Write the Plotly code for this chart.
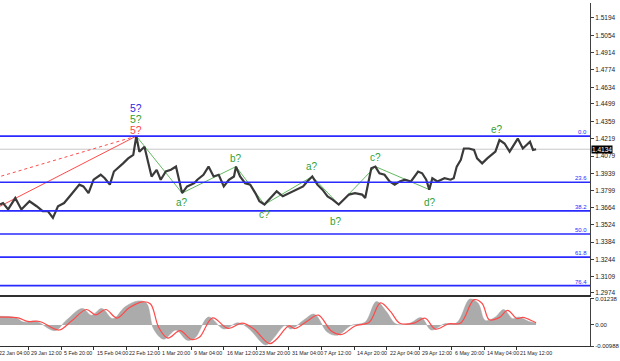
import plotly.graph_objects as go

# ---------------- data (GBP/USD H4) ----------------
price_bar = [0, 3, 8, 15, 21, 29, 36, 42, 47, 52, 57, 63, 70, 78, 82, 87, 92, 99, 103, 108,
             112, 116, 121, 126, 131, 134, 137, 142, 146, 149, 154, 158, 163, 168, 173, 176, 179, 184, 191, 194,
             200, 205, 210, 215, 220, 225, 230, 232, 236, 241, 246, 251, 255, 260, 267, 272, 278, 285, 291, 298,
             302, 307, 312, 317, 322, 327, 333, 338, 343, 349, 356, 359, 362, 365, 369, 373, 378, 383, 388,
             393, 398, 404, 411, 415, 419, 422, 425, 430, 437, 443, 446, 449, 453, 456, 461, 466, 469, 474, 479,
             483, 487, 491, 496, 501, 506, 509, 514, 521, 524, 527]
price_close = [1.3688, 1.3700, 1.3648, 1.3740, 1.3648, 1.3714, 1.3674, 1.3634, 1.3634, 1.3580,
               1.3674, 1.3700, 1.3768, 1.3848, 1.3834, 1.3780, 1.3888, 1.3928, 1.3900, 1.3848,
               1.3954, 1.3980, 1.4020, 1.4060, 1.4088, 1.4240, 1.4114, 1.4154, 1.4020, 1.3914,
               1.3968, 1.3888, 1.3954, 1.3968, 1.3994, 1.3888, 1.3780, 1.3834, 1.3860, 1.3888,
               1.3928, 1.3994, 1.3914, 1.3928, 1.3834, 1.3888, 1.3914, 1.3994, 1.3914, 1.3860,
               1.3848, 1.3780, 1.3714, 1.3688, 1.3754, 1.3794, 1.3754, 1.3780, 1.3808, 1.3834,
               1.3874, 1.3914, 1.3848, 1.3808, 1.3754, 1.3728, 1.3688, 1.3728, 1.3768, 1.3780,
               1.3768, 1.3740, 1.3860, 1.3980, 1.3994, 1.3940, 1.3928, 1.3874, 1.3848,
               1.3874, 1.3888, 1.3874, 1.3954, 1.3940, 1.3888, 1.3808, 1.3900, 1.3874, 1.3900,
               1.3888, 1.3900, 1.3994, 1.4048, 1.4140, 1.4140, 1.4128, 1.4060, 1.4020, 1.4060,
               1.4088, 1.4114, 1.4208, 1.4180, 1.4114, 1.4180, 1.4220, 1.4140, 1.4194, 1.4128,
               1.4134]

osc_bar = [0, 15, 23, 35, 54, 65, 81, 90, 100, 111, 123, 136, 144, 151, 161, 173, 184, 192, 205, 220,
           234, 245, 261, 268, 280, 286, 299, 309, 322, 332, 345, 359, 370, 380, 389, 403, 414, 424, 437, 449,
           462, 470, 477, 487, 495, 504, 510, 520, 527]
osc_hist = [0.0040, 0.0034, 0.0013, 0.0018, -0.0027, 0.0021, 0.0077, 0.0045, 0.0077, 0.0029,
            0.0085, 0.0112, 0.0101, -0.0019, -0.0067, -0.0024, -0.0072, -0.0059, 0.0037, -0.0019,
            0.0010, -0.0019, -0.0094, -0.0067, -0.0003, -0.0019, 0.0024, 0.0050, -0.0035, -0.0048,
            -0.0003, 0.0013, 0.0109, 0.0061, 0.0005, 0.0008, 0.0034, -0.0024, 0.0005, 0.0010,
            0.0122, 0.0101, 0.0021, 0.0037, 0.0072, 0.0029, 0.0037, 0.0016, 0.0008]
sig_bar = [0, 18, 27, 39, 58, 70, 85, 94, 104, 115, 127, 140, 148, 156, 165, 177, 188, 196, 209, 224,
           238, 249, 265, 272, 284, 290, 303, 313, 326, 336, 349, 363, 374, 384, 393, 407, 418, 428, 441, 453,
           466, 474, 481, 491, 499, 508, 514, 524, 527]
sig_val = [0.0036, 0.0033, 0.0016, 0.0016, -0.0024, 0.0017, 0.0072, 0.0047, 0.0072, 0.0032,
           0.0080, 0.0108, 0.0098, -0.0012, -0.0062, -0.0027, -0.0068, -0.0058, 0.0033, -0.0016,
           0.0008, -0.0017, -0.0088, -0.0066, -0.0005, -0.0017, 0.0021, 0.0046, -0.0030, -0.0045,
           -0.0005, 0.0012, 0.0103, 0.0062, 0.0008, 0.0008, 0.0031, -0.0020, 0.0005, 0.0009,
           0.0118, 0.0100, 0.0024, 0.0035, 0.0068, 0.0030, 0.0035, 0.0017, 0.0010]

price_ticks = [1.5194, 1.5054, 1.4914, 1.4774, 1.4634, 1.4499, 1.4359, 1.4219, 1.4079,
               1.3939, 1.3799, 1.3664, 1.3524, 1.3384, 1.3244, 1.3109, 1.2974]
osc_ticks = [0.01238, 0.0, -0.00988]
osc_tick_text = ["0.01238", "0.00", "-0.00988"]

time_bars = [-4, 28, 60, 92, 124, 156, 188, 220, 252, 284, 316, 348, 380, 412, 444, 476, 508]
time_labels = ["22 Jan 04:00", "29 Jan 12:00", "5 Feb 20:00", "15 Feb 04:00", "22 Feb 12:00",
               "1 Mar 20:00", "9 Mar 04:00", "16 Mar 12:00", "23 Mar 20:00", "31 Mar 04:00",
               "7 Apr 12:00", "14 Apr 20:00", "22 Apr 04:00", "29 Apr 12:00", "6 May 20:00",
               "14 May 04:00", "21 May 12:00"]

fib_high = 1.4240
fib_low = 1.2660
fib_levels = [0.0, 23.6, 38.2, 50.0, 61.8, 76.4]
current_price = 1.4134

wave_bars = [134, 179, 232, 260, 307, 333, 369, 422, 491]
wave_labels = ["5?", "a?", "b?", "c?", "a?", "b?", "c?", "d?", "e?"]
red_solid_start = (-44, 1.3488)
red_dot_start = (-44, 1.3807)

# ---------------- styles ----------------
FONT = "Liberation Sans"
BLUE = "#2a2aff"
GREEN_LINE = "#62b862"
GREEN_TXT = "#35a035"
RED = "#ff4a4a"
label_shift = [(0, -9), (0, 8), (0, -10), (0, 10), (-3, -17), (0, 9), (1, -13), (-2, 11)]
X_MAX = 580

close_at = dict(zip(price_bar, price_close))
wave_prices = [close_at[b] for b in wave_bars]
peak_bar, peak_price = wave_bars[0], wave_prices[0]

fig = go.Figure()

fig.add_trace(go.Scatter(x=[red_dot_start[0], peak_bar], y=[red_dot_start[1], peak_price],
                         mode="lines", line=dict(color=RED, width=1, dash="dot"),
                         xaxis="x", yaxis="y", hoverinfo="skip"))
fig.add_trace(go.Scatter(x=[red_solid_start[0], peak_bar], y=[red_solid_start[1], peak_price],
                         mode="lines", line=dict(color=RED, width=1),
                         xaxis="x", yaxis="y", hoverinfo="skip"))
fig.add_trace(go.Scatter(x=wave_bars[:8], y=wave_prices[:8], mode="lines",
                         line=dict(color=GREEN_LINE, width=1), xaxis="x", yaxis="y",
                         hoverinfo="skip"))
fig.add_trace(go.Scatter(x=price_bar, y=price_close, mode="lines",
                         line=dict(color="#3a3a3a", width=2.2), xaxis="x", yaxis="y"))

fig.add_trace(go.Scatter(x=osc_bar, y=osc_hist, mode="lines",
                         line=dict(color="#a6a6a6", width=0.5, shape="spline"),
                         fill="tozeroy", fillcolor="#ababab", xaxis="x2", yaxis="y2"))
fig.add_trace(go.Scatter(x=sig_bar, y=sig_val, mode="lines",
                         line=dict(color=RED, width=1.2, shape="spline"), xaxis="x2", yaxis="y2"))

shapes = []
annotations = []
shapes.append(dict(type="line", xref="x domain", x0=0, x1=1, yref="y", y0=current_price, y1=current_price,
                   line=dict(color="#c8c8c8", width=1), layer="below"))
for lv in fib_levels:
    p = fib_high - (fib_high - fib_low) * lv / 100.0
    shapes.append(dict(type="line", xref="x domain", x0=0, x1=1, yref="y", y0=p, y1=p,
                       line=dict(color=BLUE, width=1.6)))
    annotations.append(dict(xref="x domain", x=0.998, yref="y", y=p, text=f"{lv:.1f}",
                            showarrow=False, xanchor="right", yanchor="bottom", yshift=-1,
                            font=dict(family=FONT, size=6, color=BLUE)))

for txt, col, dy in [("5?", RED, 6), ("5?", GREEN_TXT, 17), ("5?", "#2a2ae0", 28)]:
    annotations.append(dict(xref="x", x=peak_bar, yref="y", y=peak_price, text=txt, showarrow=False,
                            yshift=dy, height=10, borderpad=0, font=dict(family=FONT, size=10.5, color=col)))
for (b, p, t, (dx, dy)) in zip(wave_bars[1:], wave_prices[1:], wave_labels[1:], label_shift):
    annotations.append(dict(xref="x", x=b, yref="y", y=p, text=t, showarrow=False,
                            xshift=dx, yshift=dy, font=dict(family=FONT, size=10, color=GREEN_TXT)))

annotations.append(dict(xref="paper", x=1.0, yref="y", y=current_price, text=f"{current_price:.4f}",
                        showarrow=False, xanchor="left", xshift=1, bgcolor="#000000", borderpad=0,
                        font=dict(family=FONT, size=6.5, color="#ffffff")))

for b, t in zip(time_bars, time_labels):
    annotations.append(dict(xref="paper", x=b / X_MAX, yref="paper", y=0, text=t, showarrow=False,
                            xanchor="left", yanchor="top", xshift=1, yshift=-1,
                            font=dict(family=FONT, size=5.3, color="#222222")))

H = 361
T, B = 0, 14
ph = H - T - B
main_bottom_px = 295
osc_top_px, osc_bot_px = 298, 346

fig.update_layout(
    width=620, height=H,
    margin=dict(l=0, r=22, t=T, b=B),
    paper_bgcolor="white", plot_bgcolor="white",
    showlegend=False,
    shapes=shapes, annotations=annotations,
    xaxis=dict(domain=[0, 1], range=[0, X_MAX], anchor="y", showticklabels=False, showgrid=False,
               zeroline=False, showline=True, linecolor="#303030", linewidth=2, ticks=""),
    yaxis=dict(domain=[(ph - main_bottom_px) / ph, 1], range=[1.2954, 1.5314], side="right",
               anchor="x", tickvals=price_ticks, ticktext=[f"{v:.4f}" for v in price_ticks],
               tickfont=dict(family=FONT, size=6.5, color="#222222"), showgrid=False, zeroline=False,
               showline=True, linecolor="#404040", linewidth=1, ticks="outside", ticklen=3,
               tickcolor="#404040"),
    xaxis2=dict(domain=[0, 1], range=[0, X_MAX], anchor="y2", showticklabels=False, showgrid=False,
                zeroline=False, showline=True, linecolor="#303030", linewidth=1, ticks="outside",
                ticklen=3, tickcolor="#303030", tickvals=time_bars),
    yaxis2=dict(domain=[(ph - osc_bot_px) / ph, (ph - osc_top_px) / ph], range=[-0.00988, 0.01238],
                side="right", anchor="x2", tickvals=osc_ticks, ticktext=osc_tick_text,
                tickfont=dict(family=FONT, size=6, color="#222222"), showgrid=False, zeroline=False,
                showline=True, linecolor="#404040", linewidth=1, ticks="outside", ticklen=3,
                tickcolor="#404040"),
)

fig.write_html("out.html")
